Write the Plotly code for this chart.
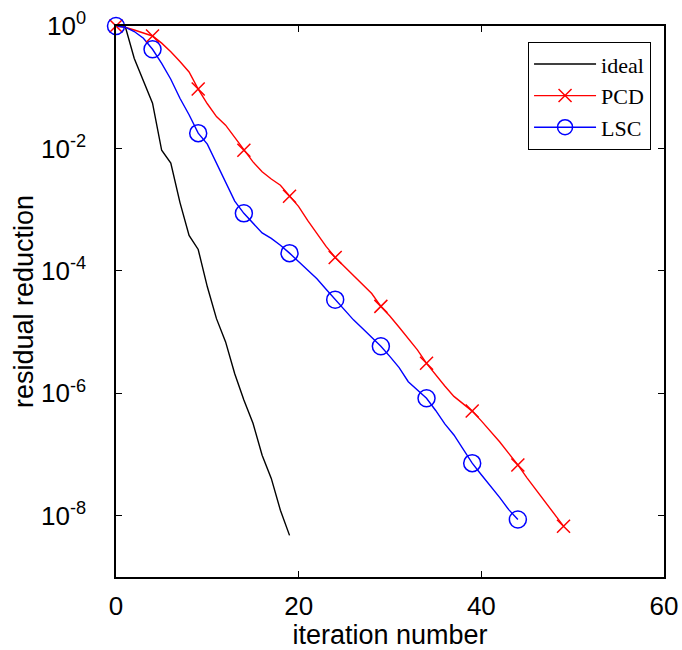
import plotly.graph_objects as go

# ---- data (log10 of residual reduction) ----
ideal_iter = list(range(20))
ideal_log = [0, 0, -0.53, -0.9, -1.26, -2.03, -2.24, -2.88, -3.42, -3.65,
             -4.26, -4.78, -5.16, -5.68, -6.11, -6.49, -7.01, -7.39, -7.91, -8.32]

pcd_iter = list(range(50))
pcd_log = [0, -0.02, -0.065, -0.11, -0.163, -0.28, -0.42, -0.58, -0.75, -1.03,
           -1.27, -1.48, -1.62, -1.82, -2.03, -2.22, -2.38, -2.50, -2.60, -2.78,
           -2.95, -3.18, -3.40, -3.60, -3.78, -3.93, -4.08, -4.22, -4.37, -4.58,
           -4.74, -4.92, -5.10, -5.29, -5.51, -5.70, -5.88, -6.05, -6.17, -6.29,
           -6.45, -6.62, -6.79, -6.98, -7.17, -7.38, -7.58, -7.78, -7.98, -8.17]

lsc_iter = list(range(45))
lsc_log = [0, -0.02, -0.09, -0.2, -0.38, -0.61, -0.87, -1.18, -1.45, -1.75,
           -1.93, -2.24, -2.55, -2.86, -3.06, -3.22, -3.38, -3.47, -3.58, -3.71,
           -3.85, -3.98, -4.13, -4.30, -4.47, -4.64, -4.80, -4.94, -5.08, -5.23,
           -5.40, -5.58, -5.81, -5.95, -6.08, -6.28, -6.50, -6.68, -6.92, -7.14,
           -7.33, -7.51, -7.70, -7.90, -8.06]

marker_iters = [0, 4, 9, 14, 19, 24, 29, 34, 39, 44, 49]

y_tickvals = [1e-8, 1e-6, 1e-4, 1e-2, 1]
y_ticktext = ["10<sup>-8</sup>", "10<sup>-6</sup>", "10<sup>-4</sup>",
              "10<sup>-2</sup>", "10<sup>0</sup>"]
x_tickvals = [0, 20, 40, 60]

ideal_y = [10 ** v for v in ideal_log]
pcd_y = [10 ** v for v in pcd_log]
lsc_y = [10 ** v for v in lsc_log]

LW = 1.4
RED = "#ff0000"
BLUE = "#0000ff"
LEG_FONT = dict(family="Liberation Serif", size=22, color="black")
SANS = "Liberation Sans, Arial"

fig = go.Figure()

# lines
fig.add_trace(go.Scatter(x=ideal_iter, y=ideal_y, mode="lines",
                         line=dict(color="black", width=LW), showlegend=False))
fig.add_trace(go.Scatter(x=pcd_iter, y=pcd_y, mode="lines",
                         line=dict(color=RED, width=LW), showlegend=False))
fig.add_trace(go.Scatter(x=lsc_iter, y=lsc_y, mode="lines",
                         line=dict(color=BLUE, width=LW), showlegend=False))

# markers at every 5th iteration
pcd_mx = [i for i in marker_iters if i < len(pcd_iter)]
lsc_mx = [i for i in marker_iters if i < len(lsc_iter)]
fig.add_trace(go.Scatter(x=[pcd_iter[i] for i in pcd_mx], y=[pcd_y[i] for i in pcd_mx],
                         mode="markers", cliponaxis=False, showlegend=False,
                         marker=dict(symbol="x-thin-open", size=13,
                                     line=dict(color=RED, width=1.5), color=RED)))
fig.add_trace(go.Scatter(x=[lsc_iter[i] for i in lsc_mx], y=[lsc_y[i] for i in lsc_mx],
                         mode="markers", cliponaxis=False, showlegend=False,
                         marker=dict(symbol="circle-open", size=17,
                                     line=dict(color=BLUE, width=1.5), color=BLUE)))

# legend entries
fig.add_trace(go.Scatter(x=[None], y=[None], mode="lines", name="ideal",
                         line=dict(color="black", width=LW)))
fig.add_trace(go.Scatter(x=[None], y=[None], mode="lines+markers", name="PCD",
                         line=dict(color=RED, width=LW),
                         marker=dict(symbol="x-thin-open", size=13,
                                     line=dict(color=RED, width=1.5), color=RED)))
fig.add_trace(go.Scatter(x=[None], y=[None], mode="lines+markers", name="LSC",
                         line=dict(color=BLUE, width=LW),
                         marker=dict(symbol="circle-open", size=15,
                                     line=dict(color=BLUE, width=1.5), color=BLUE)))

axis_common = dict(showline=True, linecolor="black", linewidth=1.5, mirror="ticks",
                   ticks="inside", tickcolor="black", tickwidth=1.2, ticklen=6,
                   showgrid=False, zeroline=False, automargin=False,
                   tickfont=dict(family=SANS, size=26, color="black"))

fig.update_xaxes(range=[0, 60], tickvals=x_tickvals, ticklabelstandoff=5,
                 title=dict(text="iteration number", standoff=12,
                            font=dict(family=SANS, size=27, color="black")),
                 **axis_common)
fig.update_yaxes(type="log", range=[-9, 0], tickvals=y_tickvals, ticktext=y_ticktext,
                 ticklabelstandoff=23,
                 title=dict(text="residual reduction", standoff=0,
                            font=dict(family=SANS, size=27, color="black")),
                 **axis_common)

fig.update_layout(
    width=682, height=650,
    margin=dict(l=116, r=18, t=26, b=73),
    paper_bgcolor="white", plot_bgcolor="white",
    legend=dict(x=0.976, y=0.971, xanchor="right", yanchor="top",
                bgcolor="white", bordercolor="black", borderwidth=1.2,
                font=LEG_FONT, tracegroupgap=0, itemwidth=62),
    showlegend=True,
)

# remove the page's default body margin so the figure sits at the window's corner
fig.write_html("out.html", config={"displayModeBar": False},
               post_script="document.body.style.margin='0';document.body.style.overflow='hidden';")
